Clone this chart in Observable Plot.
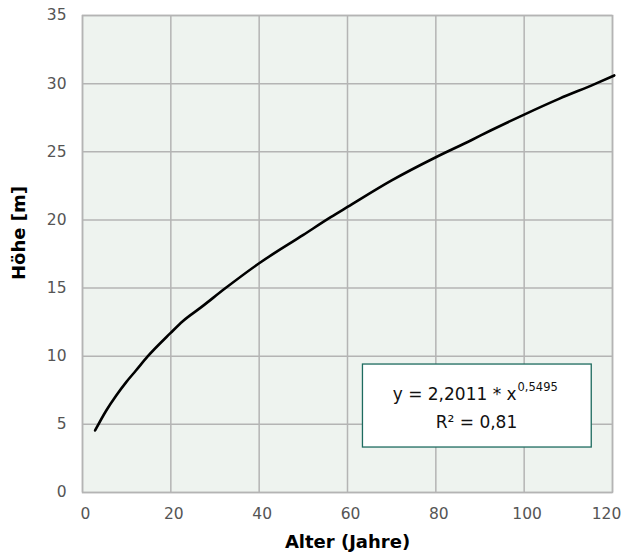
<!DOCTYPE html>
<html>
<head>
<meta charset="utf-8">
<script src="https://cdn.jsdelivr.net/npm/d3@7"></script>
<script src="https://cdn.jsdelivr.net/npm/@observablehq/plot@0.6"></script>
<style>
  html, body { margin: 0; padding: 0; background: #fff; }
  #chart svg { display: block; }
</style>
</head>
<body>
<div id="chart"></div>
<script>
// Curve
const alter = [2.85, 5.35, 7.6, 9.9, 12.1, 14.8, 19.9, 22.7, 26.9, 32.4, 40, 50, 56.2, 60, 70, 80, 87.9, 92.4, 100, 108, 116.2, 120.4];
const hoehe = [4.55, 6.0, 7.1, 8.1, 8.95, 10, 11.69, 12.57, 13.6, 15, 16.82, 18.9, 20.2, 20.95, 22.9, 24.6, 25.83, 26.56, 27.73, 28.9, 30, 30.6];

const xTicks = [0, 20, 40, 60, 80, 100];
const xLastTick = [120];
const yTicks = [0, 5, 10, 15, 20, 25, 30, 35];

const xTitle = "Alter (Jahre)";
const yTitle = "Höhe [m]";
const eqMain = "y = 2,2011 * x";
const eqExp = "0,5495";
const eqR2 = "R² = 0,81";

const data = alter.map((a, i) => ({alter: a, hoehe: hoehe[i]}));

const font = "'DejaVu Sans', 'Liberation Sans', Arial, sans-serif";
const gridColor = "#b4b4b4";

const chart = Plot.plot({
  width: 621,
  height: 553,
  marginLeft: 82,
  marginRight: 9,
  marginTop: 15,
  marginBottom: 61,
  style: {fontFamily: font, fontSize: "15.5px", color: "#555", background: "#fff"},
  x: {domain: [0, 120]},
  y: {domain: [0, 35]},
  marks: [
    Plot.frame({fill: "#eef3ef", stroke: null}),
    Plot.gridX(xTicks.concat(xLastTick), {stroke: gridColor, strokeOpacity: 1, strokeWidth: 1.5}),
    Plot.gridY(yTicks, {stroke: gridColor, strokeOpacity: 1, strokeWidth: 1.5}),
    Plot.frame({stroke: gridColor, strokeWidth: 1.5}),
    Plot.axisX(xTicks, {tickSize: 0, tickPadding: 15, dx: 3, label: null, fill: "#555", fontSize: 15.5}),
    Plot.axisX(xLastTick, {tickSize: 0, tickPadding: 15, dx: -6, label: null, fill: "#555", fontSize: 15.5}),
    Plot.axisY(yTicks, {tickSize: 0, tickPadding: 16, label: null, fill: "#555", fontSize: 15.5}),
    Plot.line(data, {x: "alter", y: "hoehe", stroke: "#000", strokeWidth: 2.6, curve: "monotone-x", clip: false}),
    // equation box
    Plot.rect([0], {x1: 63.5, x2: 115.3, y1: 3.3, y2: 9.39, fill: "#fff", stroke: "#1d6b5f", strokeWidth: 1.3}),
    Plot.text([eqMain], {x: 98.3, y: 7.19, text: d => d, textAnchor: "end", fontSize: 17, fill: "#111"}),
    Plot.text([eqExp], {x: 98.5, y: 7.72, text: d => d, textAnchor: "start", fontSize: 11.5, fill: "#111"}),
    Plot.text([eqR2], {x: 89.2, y: 5.14, text: d => d, textAnchor: "middle", fontSize: 17, fill: "#111"}),
    // axis titles
    Plot.text([xTitle], {frameAnchor: "bottom", dy: 50, textAnchor: "middle", lineAnchor: "middle", text: d => d, fontSize: 18, fontWeight: "bold", fill: "#000"}),
    Plot.text([yTitle], {frameAnchor: "left", dx: -63, dy: -21, rotate: -90, textAnchor: "middle", lineAnchor: "middle", text: d => d, fontSize: 18, fontWeight: "bold", fill: "#000"})
  ]
});

document.getElementById("chart").appendChild(chart);
</script>
</body>
</html>
